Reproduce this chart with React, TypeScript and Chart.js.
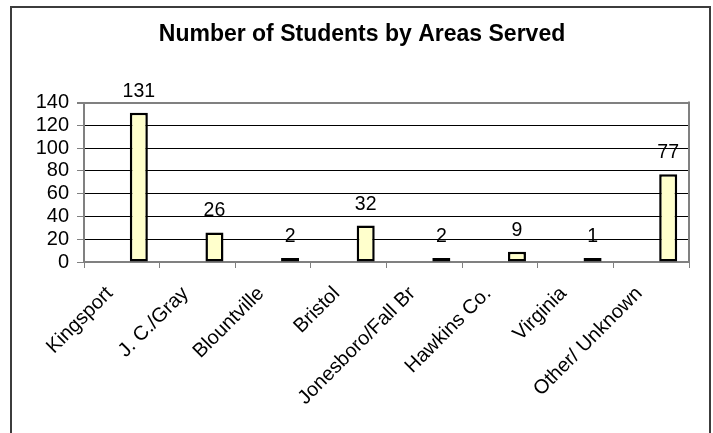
import React, { useEffect, useRef } from "react";
import { Chart, registerables } from "chart.js";

Chart.register(...registerables);

// ---- data ----
const categories = [
  "Kingsport",
  "J. C./Gray",
  "Blountville",
  "Bristol",
  "Jonesboro/Fall Br",
  "Hawkins Co.",
  "Virginia",
  "Other/ Unknown",
];
const students = [131, 26, 2, 32, 2, 9, 1, 77];
// Empty companion series (the spreadsheet leaves a blank slot left of each bar)
const blankSeries = [null, null, null, null, null, null, null, null];
const yMin = 0;
const yMax = 140;
const yStep = 20;
const chartTitle = "Number of Students by Areas Served";

const FONT = '"Liberation Sans", Arial, Helvetica, sans-serif';

const framePlugin = {
  id: "frame",
  beforeDraw(chart: any) {
    const { ctx, width, height } = chart;
    ctx.save();
    ctx.fillStyle = "#ffffff";
    ctx.fillRect(0, 0, width, height);
    ctx.strokeStyle = "#3c3c3c";
    ctx.lineWidth = 2;
    ctx.strokeRect(11, 7, width - 14, height + 20);
    ctx.restore();
  },
  afterDraw(chart: any) {
    const { ctx, chartArea } = chart;
    ctx.save();
    ctx.strokeStyle = "#808080";
    ctx.lineWidth = 2;
    ctx.beginPath();
    ctx.moveTo(chartArea.right, chartArea.top - 1);
    ctx.lineTo(chartArea.right, chartArea.bottom + 1);
    ctx.stroke();
    ctx.restore();
  },
};

const labelPlugin = {
  id: "barLabels",
  afterDatasetsDraw(chart: any) {
    const { ctx } = chart;
    const meta = chart.getDatasetMeta(1);
    const data = chart.data.datasets[1].data;
    ctx.save();
    ctx.fillStyle = "#000000";
    ctx.font = `19.5px ${FONT}`;
    ctx.textAlign = "center";
    ctx.textBaseline = "alphabetic";
    meta.data.forEach((el: any, i: number) => {
      ctx.fillText(String(data[i]), el.x, el.y - 16);
    });
    ctx.restore();
  },
};

export default function App() {
  const ref = useRef<HTMLCanvasElement | null>(null);

  useEffect(() => {
    if (!ref.current) return;
    const chart = new Chart(ref.current, {
      type: "bar",
      data: {
        labels: categories,
        datasets: [
          {
            label: "blank",
            data: blankSeries,
            backgroundColor: "#FFFFCC",
            borderColor: "#000000",
            borderWidth: 2.5,
          },
          {
            label: "Students",
            data: students,
            backgroundColor: "#FFFFCC",
            borderColor: "#000000",
            borderWidth: 2.5,
            borderSkipped: false,
            inflateAmount: 0,
            minBarLength: 4,
          },
        ],
      },
      options: {
        responsive: false,
        animation: false,
        devicePixelRatio: 1,
        layout: { padding: { left: 35, right: 24, top: 0, bottom: 0 } },
        datasets: {
          bar: { categoryPercentage: 0.9, barPercentage: 0.53 },
        },
        plugins: {
          legend: { display: false },
          tooltip: { enabled: false },
          title: {
            display: true,
            text: chartTitle,
            color: "#000000",
            font: { family: FONT, size: 23, weight: "bold" },
            padding: { top: 21, bottom: 54 },
          },
        },
        scales: {
          x: {
            offset: true,
            grid: {
              display: true,
              drawOnChartArea: false,
              drawTicks: true,
              tickLength: 6,
              tickColor: "#808080",
              offset: true,
            },
            border: { display: true, color: "#808080", width: 2 },
            ticks: {
              color: "#000000",
              font: { family: FONT, size: 20 },
              minRotation: 45,
              maxRotation: 45,
              autoSkip: false,
              padding: 14,
              labelOffset: -12,
            },
            afterFit(scale: any) {
              scale.height = 171;
            },
          },
          y: {
            min: yMin,
            max: yMax,
            ticks: {
              stepSize: yStep,
              autoSkip: false,
              color: "#000000",
              font: { family: FONT, size: 20 },
              padding: 8,
            },
            grid: {
              color: (c: any) => (c.tick && c.tick.value === yMax ? "#808080" : "#000000"),
              lineWidth: (c: any) => (c.tick && c.tick.value === yMax ? 2 : 1),
              tickLength: 7,
              tickColor: "#808080",
            },
            border: { display: true, color: "#808080", width: 2 },
            afterFit(scale: any) {
              scale.width = 49;
            },
          },
        },
      },
      plugins: [framePlugin, labelPlugin],
    });
    return () => chart.destroy();
  }, []);

  return (
    <div style={{ position: "absolute", left: 0, top: 0, width: 713, height: 433, overflow: "hidden" }}>
      <canvas ref={ref} width={713} height={433} style={{ display: "block" }} />
    </div>
  );
}
